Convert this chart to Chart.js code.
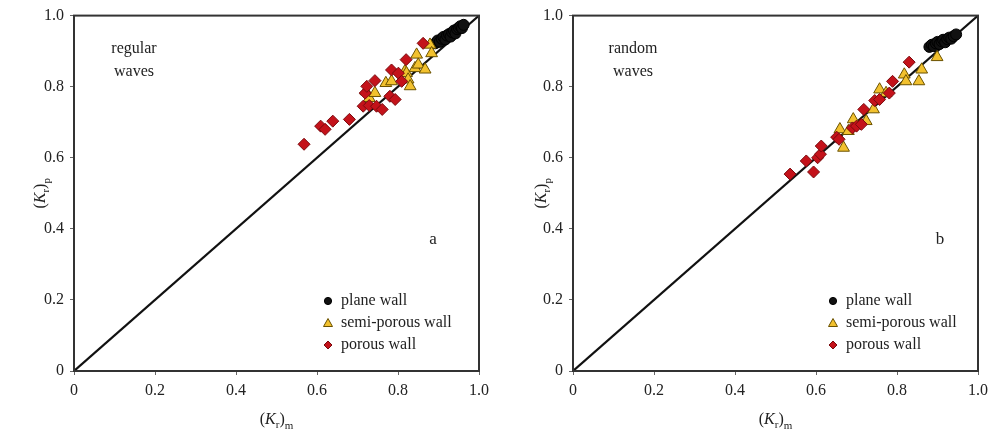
<!DOCTYPE html>
<html>
<head>
<meta charset="utf-8">
<script src="https://cdn.jsdelivr.net/npm/chart.js@4/dist/chart.umd.min.js"></script>
<style>
html,body{margin:0;padding:0;background:#fff;}
#wrap{position:relative;width:994px;height:434px;}
.pane{position:absolute;top:0;height:434px;}
</style>
</head>
<body>
<div id="wrap">
  <div class="pane" style="left:0;width:497px;"><canvas id="ca"></canvas></div>
  <div class="pane" style="left:497px;width:497px;"><canvas id="cb"></canvas></div>
</div>
<script>
// ---------- data ----------
const tickValues = [0, 0.2, 0.4, 0.6, 0.8, 1.0];
const seriesNames = ['plane wall', 'semi-porous wall', 'porous wall'];

// panel a : regular waves
const aPlaneX = [0.892, 0.898, 0.903, 0.908, 0.912, 0.917, 0.921, 0.926, 0.930, 0.934, 0.938, 0.942, 0.946, 0.950, 0.954, 0.958, 0.962];
const aPlaneY = [0.922, 0.930, 0.926, 0.935, 0.940, 0.933, 0.944, 0.948, 0.941, 0.953, 0.958, 0.950, 0.962, 0.966, 0.970, 0.965, 0.974];
const aSemiX = [0.721, 0.729, 0.743, 0.770, 0.784, 0.817, 0.821, 0.825, 0.830, 0.842, 0.846, 0.850, 0.867, 0.879, 0.883];
const aSemiY = [0.787, 0.768, 0.782, 0.810, 0.815, 0.843, 0.838, 0.820, 0.801, 0.852, 0.890, 0.862, 0.848, 0.918, 0.894];
const aPorX = [0.568, 0.609, 0.620, 0.639, 0.680, 0.714, 0.719, 0.723, 0.729, 0.743, 0.747, 0.761, 0.780, 0.784, 0.793, 0.801, 0.809, 0.820, 0.862];
const aPorY = [0.638, 0.689, 0.680, 0.703, 0.708, 0.745, 0.782, 0.801, 0.747, 0.817, 0.745, 0.736, 0.773, 0.847, 0.764, 0.838, 0.815, 0.876, 0.922];

// panel b : random waves
const bPlaneX = [0.880, 0.886, 0.891, 0.896, 0.900, 0.905, 0.910, 0.914, 0.919, 0.924, 0.929, 0.934, 0.940, 0.946];
const bPlaneY = [0.912, 0.918, 0.914, 0.922, 0.926, 0.920, 0.928, 0.932, 0.925, 0.934, 0.938, 0.935, 0.942, 0.947];
const bSemiX = [0.659, 0.668, 0.680, 0.692, 0.724, 0.742, 0.757, 0.773, 0.818, 0.822, 0.854, 0.861, 0.899];
const bSemiY = [0.680, 0.628, 0.675, 0.708, 0.703, 0.736, 0.792, 0.782, 0.834, 0.815, 0.815, 0.848, 0.883];
const bPorX = [0.536, 0.576, 0.594, 0.604, 0.611, 0.613, 0.651, 0.657, 0.690, 0.700, 0.712, 0.718, 0.745, 0.757, 0.781, 0.789, 0.830];
const bPorY = [0.554, 0.591, 0.560, 0.600, 0.610, 0.633, 0.658, 0.652, 0.684, 0.689, 0.694, 0.736, 0.761, 0.764, 0.782, 0.815, 0.869];

const lineX = [0, 1];
const lineY = [0, 1];

// ---------- helpers ----------
const pts = (xs, ys) => xs.map((x, i) => ({x: x, y: ys[i]}));
const SERIF = '"Liberation Serif", "DejaVu Serif", serif';
const INK = '#222';

const styles = [
  {pointStyle: 'circle', radius: 5.5, bg: '#111', border: '#000'},
  {pointStyle: 'triangle', radius: 6.8, bg: '#f2c12e', border: '#6b5200'},
  {pointStyle: 'rectRot', radius: 6, bg: '#c4121a', border: '#7a0a0e'}
];

function drawK(ctx, sub, x, y, rotate) {
  ctx.save();
  ctx.translate(x, y);
  if (rotate) ctx.rotate(-Math.PI / 2);
  ctx.fillStyle = INK;
  ctx.textBaseline = 'alphabetic';
  const big = '16px ' + SERIF, ital = 'italic 16px ' + SERIF, small = '11px ' + SERIF;
  const parts = [
    {t: '(', f: big, dy: 0},
    {t: 'K', f: ital, dy: 0},
    {t: 'r', f: small, dy: 4},
    {t: ')', f: big, dy: 0},
    {t: sub, f: small, dy: 5}
  ];
  let w = 0;
  parts.forEach(p => { ctx.font = p.f; p.w = ctx.measureText(p.t).width; w += p.w; });
  let cx = -w / 2;
  parts.forEach(p => { ctx.font = p.f; ctx.fillText(p.t, cx, 5 + p.dy); cx += p.w; });
  ctx.restore();
}

function deco(cfg) {
  return {
    id: 'deco',
    afterDraw(chart) {
      const ctx = chart.ctx, a = chart.chartArea;
      ctx.save();
      ctx.strokeStyle = '#333';
      ctx.lineWidth = 2;
      ctx.strokeRect(a.left, a.top, a.right - a.left, a.bottom - a.top);
      drawK(ctx, 'm', (a.left + a.right) / 2, 419, false);
      drawK(ctx, 'p', cfg.yTitleX, (a.top + a.bottom) / 2, true);
      ctx.fillStyle = INK;
      ctx.font = '16px ' + SERIF;
      ctx.textAlign = 'center';
      ctx.textBaseline = 'middle';
      ctx.fillText(cfg.wave[0], a.left + cfg.waveDx, 49);
      ctx.fillText(cfg.wave[1], a.left + cfg.waveDx, 72);
      ctx.font = '17px ' + SERIF;
      ctx.fillText(cfg.letter, a.left + cfg.letterDx, 240);
      ctx.textAlign = 'left';
      ctx.font = '16px ' + SERIF;
      const lx = a.left + cfg.legDx;
      const rows = [301, 323, 345];
      seriesNames.forEach((name, i) => {
        const s = styles[i];
        const y = rows[i];
        ctx.fillStyle = s.bg;
        ctx.strokeStyle = s.border;
        ctx.lineWidth = 1;
        ctx.beginPath();
        if (s.pointStyle === 'circle') {
          ctx.arc(lx, y, 3.6, 0, Math.PI * 2);
        } else if (s.pointStyle === 'triangle') {
          ctx.moveTo(lx, y - 4.5); ctx.lineTo(lx + 4.5, y + 3.5); ctx.lineTo(lx - 4.5, y + 3.5); ctx.closePath();
        } else {
          ctx.moveTo(lx, y - 4); ctx.lineTo(lx + 4, y); ctx.lineTo(lx, y + 4); ctx.lineTo(lx - 4, y); ctx.closePath();
        }
        ctx.fill(); ctx.stroke();
        ctx.fillStyle = INK;
        ctx.textBaseline = 'middle';
        ctx.fillText(name, lx + 13, y);
      });
      ctx.restore();
    }
  };
}

function makeChart(id, plane, semi, por, cfg) {
  const sets = [plane, semi, por].map((d, i) => ({
    type: 'scatter',
    label: seriesNames[i],
    data: d,
    pointStyle: styles[i].pointStyle,
    pointRadius: styles[i].radius,
    pointHoverRadius: styles[i].radius,
    backgroundColor: styles[i].bg,
    borderColor: styles[i].border,
    borderWidth: 1,
    order: 3 - i
  }));
  sets.push({
    type: 'line',
    label: 'line',
    data: pts(lineX, lineY),
    borderColor: '#111',
    borderWidth: 2.2,
    pointRadius: 0,
    fill: false,
    order: 10
  });
  const tickFont = {family: SERIF, size: 16};
  return new Chart(document.getElementById(id), {
    type: 'scatter',
    data: {datasets: sets},
    options: {
      responsive: true,
      maintainAspectRatio: false,
      animation: false,
      layout: {padding: {left: 0, right: cfg.padRight, top: 14, bottom: 0}},
      plugins: {legend: {display: false}, tooltip: {enabled: false}},
      scales: {
        x: {
          type: 'linear', min: 0, max: 1,
          afterBuildTicks: s => { s.ticks = tickValues.map(v => ({value: v})); },
          afterFit: s => { s.height = 63; },
          grid: {display: true, drawOnChartArea: false, drawTicks: true, tickLength: 4, color: '#666'},
          border: {display: false},
          ticks: {font: tickFont, color: INK, padding: 6, maxRotation: 0,
            callback: v => v === 0 ? '0' : v.toFixed(1)}
        },
        y: {
          type: 'linear', min: 0, max: 1,
          afterBuildTicks: s => { s.ticks = tickValues.map(v => ({value: v})); },
          afterFit: s => { s.width = cfg.yWidth; },
          grid: {display: true, drawOnChartArea: false, drawTicks: true, tickLength: 4, color: '#666'},
          border: {display: false},
          ticks: {font: tickFont, color: INK, padding: 6,
            callback: v => v === 0 ? '0' : v.toFixed(1)}
        }
      }
    },
    plugins: [deco(cfg)]
  });
}

makeChart('ca', pts(aPlaneX, aPlaneY), pts(aSemiX, aSemiY), pts(aPorX, aPorY), {
  padRight: 18, yWidth: 74, yTitleX: 40, wave: ['regular', 'waves'], waveDx: 60, letter: 'a', letterDx: 359, legDx: 254
});
makeChart('cb', pts(bPlaneX, bPlaneY), pts(bSemiX, bSemiY), pts(bPorX, bPorY), {
  padRight: 11, yWidth: 76, yTitleX: 44, wave: ['random', 'waves'], waveDx: 60, letter: 'b', letterDx: 367, legDx: 260
});
</script>
</body>
</html>
